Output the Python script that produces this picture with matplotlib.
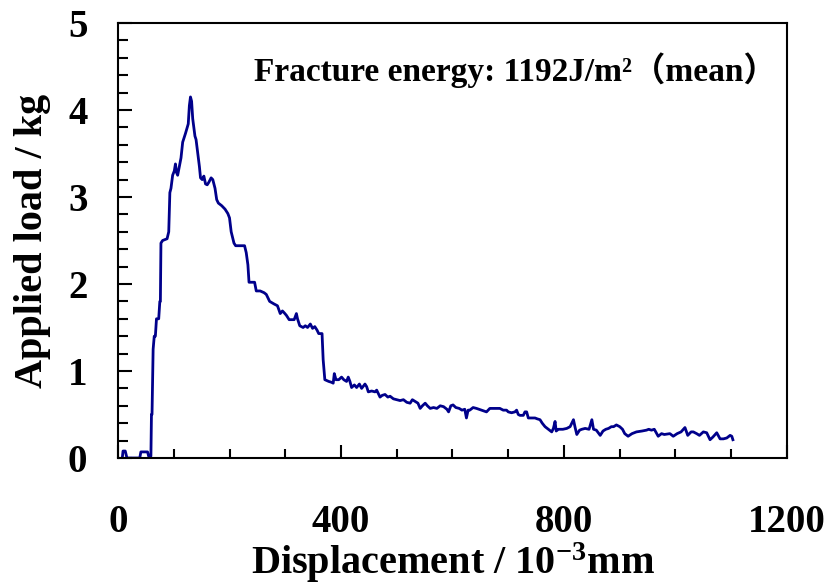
import matplotlib
matplotlib.use("Agg")
import matplotlib.pyplot as plt
from matplotlib.ticker import MultipleLocator

# displacement (10^-3 mm) and applied load (kg)
disp = [8, 9, 13, 16, 39, 41, 53, 55, 59, 60, 61, 63, 65, 67, 69, 73, 75, 76, 77, 80,
        88, 91, 93, 95, 98, 101, 103, 105, 107, 110, 113, 116, 121, 126, 128, 130, 132, 134, 136, 138,
        140, 143, 146, 148, 151, 154, 157, 160, 163, 167, 170, 174, 177, 180, 186, 192, 197, 200, 203, 206,
        208, 211, 227, 230, 233, 235, 245, 248, 255, 262, 266, 272, 280, 286, 291, 295, 298, 302, 307, 316,
        320, 322, 326, 332, 336, 340, 345, 349, 353, 357, 360, 366, 368, 371, 378, 383, 386, 388, 391, 396,
        401, 405, 410, 413, 416, 419, 424, 428, 433, 437, 443, 446, 449, 455, 461, 464, 470, 474, 479, 484,
        488, 494, 500, 506, 512, 518, 524, 528, 533, 538, 542, 546, 551, 555, 560, 566, 572, 578, 584, 590,
        593, 597, 601, 606, 612, 617, 622, 625, 628, 631, 637, 643, 652, 661, 667, 676, 685, 691, 697, 700,
        706, 712, 715, 718, 721, 727, 730, 733, 736, 748, 752, 757, 761, 766, 772, 778, 781, 784, 786, 790,
        798, 805, 811, 817, 820, 823, 828, 832, 838, 845, 850, 853, 858, 865, 870, 875, 880, 885, 889, 894,
        900, 905, 909, 915, 922, 930, 940, 948, 952, 957, 962, 969, 975, 980, 990, 996, 1003, 1010, 1017, 1022,
        1028, 1032, 1038, 1043, 1050, 1056, 1062, 1067, 1074, 1080, 1086, 1092, 1098, 1101, 1103]
load = [0.02, 0.08, 0.08, 0.0, 0.0, 0.07, 0.07, 0.02, 0.02, 0.5, 0.5, 1.25, 1.4, 1.4, 1.6, 1.6, 1.8, 1.8, 2.47, 2.5,
        2.52, 2.6, 3.05, 3.1, 3.25, 3.3, 3.38, 3.28, 3.25, 3.35, 3.45, 3.63, 3.73, 3.84, 4.05, 4.15, 4.1, 3.9, 3.8, 3.7,
        3.66, 3.5, 3.35, 3.22, 3.2, 3.24, 3.15, 3.14, 3.17, 3.22, 3.2, 3.1, 2.97, 2.93, 2.9, 2.86, 2.81, 2.76, 2.6, 2.52,
        2.47, 2.44, 2.44, 2.36, 2.22, 2.02, 2.02, 1.92, 1.92, 1.9, 1.88, 1.8, 1.77, 1.75, 1.66, 1.69, 1.67, 1.64, 1.59, 1.59,
        1.66, 1.6, 1.52, 1.5, 1.52, 1.5, 1.54, 1.49, 1.51, 1.47, 1.43, 1.43, 1.13, 0.9, 0.88, 0.87, 0.86, 0.97, 0.9, 0.9,
        0.93, 0.9, 0.88, 0.93, 0.88, 0.81, 0.84, 0.81, 0.85, 0.8, 0.85, 0.82, 0.76, 0.77, 0.76, 0.78, 0.7, 0.72, 0.73, 0.7,
        0.71, 0.68, 0.67, 0.66, 0.67, 0.64, 0.63, 0.67, 0.65, 0.63, 0.57, 0.6, 0.63, 0.6, 0.57, 0.58, 0.57, 0.6, 0.59, 0.56,
        0.53, 0.6, 0.61, 0.58, 0.57, 0.55, 0.56, 0.46, 0.55, 0.55, 0.58, 0.57, 0.55, 0.53, 0.57, 0.57, 0.57, 0.55, 0.55, 0.53,
        0.52, 0.53, 0.55, 0.5, 0.49, 0.49, 0.53, 0.53, 0.46, 0.46, 0.45, 0.44, 0.4, 0.36, 0.33, 0.3, 0.34, 0.42, 0.31, 0.33,
        0.33, 0.34, 0.36, 0.44, 0.35, 0.27, 0.32, 0.33, 0.34, 0.33, 0.44, 0.33, 0.32, 0.26, 0.31, 0.33, 0.34, 0.36, 0.36, 0.38,
        0.36, 0.33, 0.28, 0.25, 0.28, 0.3, 0.31, 0.32, 0.33, 0.32, 0.33, 0.25, 0.28, 0.27, 0.28, 0.25, 0.28, 0.3, 0.35, 0.26,
        0.3, 0.3, 0.28, 0.26, 0.3, 0.29, 0.21, 0.24, 0.29, 0.22, 0.22, 0.23, 0.26, 0.25, 0.21]

xticks = [0, 400, 800, 1200]
yticks = [0, 1, 2, 3, 4, 5]

plt.rcParams['font.family'] = ['Liberation Serif', 'DejaVu Serif']
plt.rcParams['font.weight'] = 'bold'
plt.rcParams['axes.labelweight'] = 'bold'
plt.rcParams['mathtext.fontset'] = 'custom'
plt.rcParams['mathtext.rm'] = 'Liberation Serif:bold'
plt.rcParams['mathtext.default'] = 'regular'

fig = plt.figure(figsize=(8.27, 5.88), dpi=100)
ax = fig.add_axes([0.1427, 0.2211, 0.8089, 0.7398])

ax.plot(disp, load, color='#00008b', lw=2)

ax.set_xlim(0, 1200)
ax.set_ylim(0, 5)
ax.set_xticks(xticks)
ax.set_yticks(yticks)
ax.xaxis.set_minor_locator(MultipleLocator(100))
ax.yaxis.set_minor_locator(MultipleLocator(0.2))

ax.tick_params(which='both', direction='in', width=1.5, labelsize=28)
ax.tick_params(axis='x', which='major', length=9.5, pad=33)
ax.tick_params(axis='x', which='minor', length=6.5)
ax.tick_params(axis='y', which='major', length=10, pad=22)
ax.tick_params(axis='y', which='minor', length=7)
for s in ax.spines.values():
    s.set_linewidth(1.5)

ax.set_xlabel('Displacement / 10$^{-3}$mm', fontsize=29, fontweight='bold', labelpad=0)
ax.set_ylabel('Applied load / kg', fontsize=29, fontweight='bold', labelpad=12)

ax.text(0.985, 0.892, 'Fracture energy: 1192J/m²（mean）', transform=ax.transAxes,
        ha='right', va='center', fontsize=24, fontweight='bold',
        family=['Liberation Serif', 'Noto Sans CJK JP'])

fig.savefig('out.png', dpi=100)
